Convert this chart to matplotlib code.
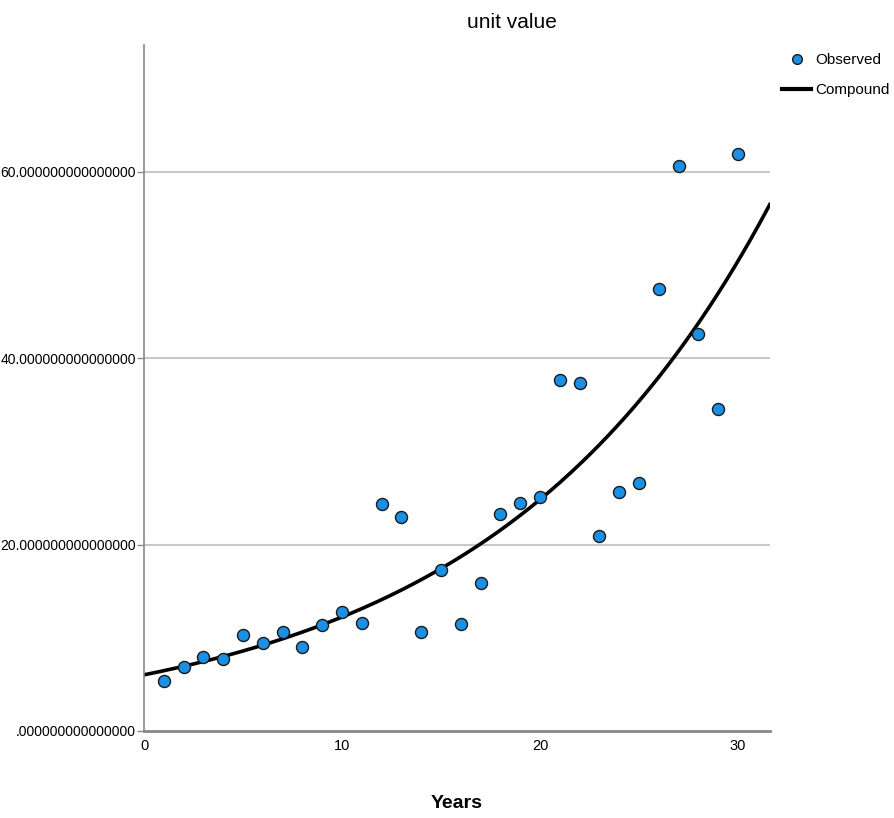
import numpy as np
import matplotlib.pyplot as plt
from matplotlib.lines import Line2D

years = np.arange(1, 31)
unit_value = np.array([5.4, 6.9, 7.9, 7.7, 10.3, 9.4, 10.6, 9.0, 11.4, 12.8,
                       11.6, 24.4, 23.0, 10.6, 17.3, 11.5, 15.9, 23.3, 24.5, 25.1,
                       37.7, 37.3, 20.9, 25.6, 26.6, 47.4, 60.6, 42.6, 34.5, 61.9])
y_ticks = [0, 20, 40, 60]
y_tick_labels = ['.000000000000000', '20.000000000000000',
                 '40.000000000000000', '60.000000000000000']
x_ticks = [0, 10, 20, 30]

# compound model: y = b0 * b1**t, fitted on log scale
slope, intercept = np.polyfit(years, np.log(unit_value), 1)
t = np.linspace(0, 31.6, 300)
fit = np.exp(intercept) * np.exp(slope) ** t

plt.rcParams['font.family'] = ['Liberation Sans', 'DejaVu Sans']

fig = plt.figure(figsize=(8.95, 8.18), dpi=100)
ax = fig.add_axes([0.161, 0.1064, 0.699, 0.8386])

for yv in y_ticks[1:]:
    ax.axhline(yv, color='#c8c8c8', lw=1.5, zorder=0)

ax.plot(t, fit, color='black', lw=2.6, zorder=2)
ax.scatter(years, unit_value, s=75, color='#1a8fe3', edgecolor='#1a1a1a',
           linewidth=1.0, zorder=3)

ax.set_xlim(0, 31.6)
ax.set_ylim(0, 73.6)
ax.set_xticks(x_ticks)
ax.set_yticks(y_ticks)
ax.set_yticklabels(y_tick_labels)
ax.tick_params(axis='x', length=0, pad=6, labelsize=10.5)
ax.tick_params(axis='y', length=5, width=1, color='#888888', pad=1, labelsize=10)

for s in ['top', 'right']:
    ax.spines[s].set_visible(False)
ax.spines['left'].set_color('#888888')
ax.spines['left'].set_linewidth(1.2)
ax.spines['bottom'].set_color('#888888')
ax.spines['bottom'].set_linewidth(2)

ax.set_xlabel('Years', fontsize=14, fontweight='bold', labelpad=30)
fig.text(512 / 895, 1 - 22 / 818, 'unit value', ha='center', va='center', fontsize=15)

handles = [Line2D([], [], marker='o', linestyle='none', markersize=7,
                  markerfacecolor='#1a8fe3', markeredgecolor='#1a1a1a'),
           Line2D([], [], color='black', lw=3)]
fig.legend(handles, ['Observed', 'Compound'], loc='upper left',
           bbox_to_anchor=(782 / 895, 1 - 53 / 818), frameon=False, fontsize=11,
           borderpad=0, borderaxespad=0, handlelength=1.9, handletextpad=0.3,
           labelspacing=1.05)

fig.savefig('out.png', dpi=100)
